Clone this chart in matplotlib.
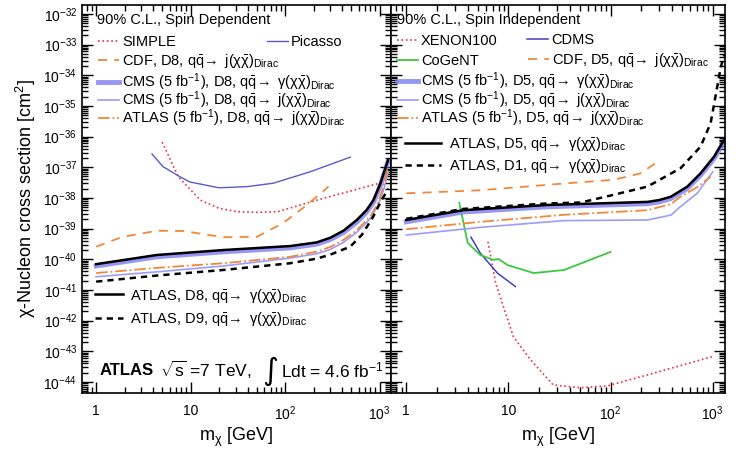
import matplotlib
matplotlib.use('Agg')
import matplotlib.pyplot as plt
import numpy as np
from matplotlib.lines import Line2D
from matplotlib.legend import Legend
from matplotlib.ticker import LogLocator, FixedLocator, FixedFormatter, NullFormatter

plt.rcParams['font.family'] = ['Liberation Sans', 'DejaVu Sans']
plt.rcParams['mathtext.fontset'] = 'custom'
plt.rcParams['mathtext.rm'] = 'Liberation Sans'
plt.rcParams['mathtext.it'] = 'Liberation Sans:italic'
plt.rcParams['mathtext.bf'] = 'Liberation Sans:bold'

# masses in GeV, limits given as log10(sigma / cm^2)

# ---- Spin dependent (left) ----
simple_m = [5.0, 7.4, 12.6, 20, 31, 50, 83, 218, 410, 1000]
simple_l = [-36.18, -37.31, -38.07, -38.34, -38.45, -38.47, -38.45, -38.07, -37.84, -37.52]
picasso_m = [3.9, 5.1, 7.7, 9.8, 20, 40, 75, 183, 490]
picasso_l = [-36.57, -36.98, -37.31, -37.48, -37.67, -37.63, -37.52, -37.15, -36.67]
cdf_d8_m = [1, 1.9, 4.4, 8.4, 22, 50, 95, 170, 288]
cdf_d8_l = [-39.59, -39.27, -39.07, -39.08, -39.28, -39.27, -38.82, -38.23, -37.63]
atlas_d8_m = [1, 4.4, 22, 113, 216, 300, 414, 573, 731, 861, 1012, 1230]
atlas_d8_l = [-40.16, -39.86, -39.70, -39.57, -39.45, -39.30, -39.07, -38.72, -38.39, -38.07, -37.55, -36.76]
cmsg_d8_l = [-40.22, -39.92, -39.76, -39.63, -39.51, -39.36, -39.13, -38.79, -38.46, -38.14, -37.62, -36.80]
atlas5_d8_m = [1, 4.4, 22, 113, 216, 300, 414, 573, 794, 950, 1100, 1230]
atlas5_d8_l = [-40.45, -40.28, -40.13, -39.92, -39.75, -39.60, -39.37, -39.05, -38.61, -38.20, -37.63, -37.00]
cmsj_d8_l = [-40.57, -40.41, -40.22, -39.96, -39.82, -39.68, -39.45, -39.12, -38.68, -38.28, -37.75, -37.15]
atlas_d9_m = [1, 4.4, 22, 113, 216, 300, 488, 650, 855, 1000, 1100, 1250]
atlas_d9_l = [-40.73, -40.53, -40.35, -40.13, -39.98, -39.85, -39.59, -39.20, -38.61, -38.20, -37.96, -37.70]

# ---- Spin independent (right) ----
xenon_m = [6.3, 7.5, 11.2, 16.5, 27.5, 51, 93, 230, 1000]
xenon_l = [-39.43, -40.78, -42.53, -43.28, -44.10, -44.19, -44.13, -43.77, -43.17]
cdms_m = [4.3, 5.3, 7.8, 11.7]
cdms_l = [-39.28, -39.80, -40.45, -40.89]
cogent_m = [3.3, 4.0, 5.3, 7.1, 8.0, 9.8, 17.7, 35, 100]
cogent_l = [-38.16, -39.47, -39.86, -40.02, -39.99, -40.19, -40.45, -40.35, -39.76]
cdf_d5_m = [1, 5.3, 35, 107, 196, 290]
cdf_d5_l = [-37.85, -37.75, -37.53, -37.41, -37.20, -36.82]
atlas_d5_m = [1, 3.6, 24, 230, 300, 390, 565, 760, 1030, 1290]
atlas_d5_l = [-38.72, -38.40, -38.23, -38.13, -38.07, -37.96, -37.63, -37.20, -36.66, -36.11]
cmsg_d5_l = [-38.78, -38.46, -38.29, -38.19, -38.13, -38.02, -37.69, -37.26, -36.72, -36.18]
atlas_d1_m = [1, 3.6, 24, 51, 107, 230, 485, 760, 955, 1200, 1300]
atlas_d1_l = [-38.68, -38.36, -38.18, -38.15, -37.90, -37.63, -37.03, -36.33, -35.56, -33.73, -33.34]
atlas5_d5_m = [1, 5.3, 35, 230, 390, 485, 705, 955]
atlas5_d5_l = [-39.02, -38.78, -38.55, -38.40, -38.20, -37.96, -37.65, -37.31]
cmsj_d5_m = [1, 5.3, 35, 230, 390, 485, 705, 1000]
cmsj_d5_l = [-39.21, -38.96, -38.74, -38.72, -38.56, -38.28, -37.85, -37.15]

orange = '#f0883a'
red = '#f03040'
blue_thick = '#7c7cf0'
blue_thin = '#9c9cff'
picasso_c = '#5a5ad0'
cdms_c = '#4040c0'
green = '#3cc83c'

s_simple = dict(ls=':', color=red, lw=1.2)
s_picasso = dict(ls='-', color=picasso_c, lw=1.0)
s_cdf = dict(ls='--', color=orange, lw=1.3, dashes=(5, 4))
s_cmsg = dict(ls='-', color=blue_thick, lw=3.5, alpha=0.8)
s_cmsj = dict(ls='-', color=blue_thin, lw=1.2)
s_atlas5 = dict(ls='-.', color=orange, lw=1.3)
s_atlas = dict(ls='-', color='black', lw=1.8)
s_atlas_dash = dict(ls='--', color='black', lw=1.8, dashes=(2.5, 2))
s_xenon = dict(ls=':', color=red, lw=1.2)
s_cdms = dict(ls='-', color=cdms_c, lw=1.1)
s_cogent = dict(ls='-', color=green, lw=1.3)


def sig(logs):
    return 10.0 ** np.array(logs)


fig = plt.figure(figsize=(7.36, 4.5), dpi=100)
axl = fig.add_axes([0.1114, 0.1267, 0.4198, 0.8622])
axr = fig.add_axes([0.5312, 0.1267, 0.4538, 0.8622])

# left panel curves
axl.plot(simple_m, sig(simple_l), **s_simple)
axl.plot(picasso_m, sig(picasso_l), **s_picasso)
axl.plot(cdf_d8_m, sig(cdf_d8_l), **s_cdf)
axl.plot(atlas_d8_m, sig(cmsg_d8_l), **s_cmsg)
axl.plot(atlas5_d8_m, sig(cmsj_d8_l), **s_cmsj)
axl.plot(atlas5_d8_m, sig(atlas5_d8_l), **s_atlas5)
axl.plot(atlas_d8_m, sig(atlas_d8_l), **s_atlas)
axl.plot(atlas_d9_m, sig(atlas_d9_l), **s_atlas_dash)

# right panel curves
axr.plot(xenon_m, sig(xenon_l), **s_xenon)
axr.plot(cdms_m, sig(cdms_l), **s_cdms)
axr.plot(cogent_m, sig(cogent_l), **s_cogent)
axr.plot(cdf_d5_m, sig(cdf_d5_l), **s_cdf)
axr.plot(atlas_d5_m, sig(cmsg_d5_l), **s_cmsg)
axr.plot(cmsj_d5_m, sig(cmsj_d5_l), **s_cmsj)
axr.plot(atlas5_d5_m, sig(atlas5_d5_l), **s_atlas5)
axr.plot(atlas_d5_m, sig(atlas_d5_l), **s_atlas)
axr.plot(atlas_d1_m, sig(atlas_d1_l), **s_atlas_dash)

for ax in (axl, axr):
    ax.set_xscale('log')
    ax.set_yscale('log')
    ax.set_xlim(10**-0.15, 10**3.12)
    ax.set_ylim(10**-44.36, 10**-31.71)
    ax.xaxis.set_major_locator(FixedLocator([1, 10, 100, 1000]))
    ax.xaxis.set_major_formatter(FixedFormatter(['1', '10', r'$10^2$', r'$10^3$']))
    ax.xaxis.set_minor_locator(LogLocator(base=10, subs=np.arange(2, 10), numticks=50))
    ax.xaxis.set_minor_formatter(NullFormatter())
    ax.yaxis.set_major_locator(LogLocator(base=10, numticks=30))
    ax.yaxis.set_minor_locator(LogLocator(base=10, subs=np.arange(2, 10), numticks=200))
    ax.yaxis.set_minor_formatter(NullFormatter())
    ax.tick_params(which='both', direction='in', top=True, right=True, labelsize=10, width=1)
    ax.tick_params(which='major', length=8)
    ax.tick_params(which='minor', length=4)
    ax.tick_params(axis='x', pad=8)
    for sp in ax.spines.values():
        sp.set_linewidth(1.2)
    ax.set_xlabel(r'm$_{\mathrm{\chi}}$ [GeV]', fontsize=13, labelpad=2)

axr.tick_params(axis='y', labelleft=False)
axl.set_ylabel('χ-Nucleon cross section [cm$^2$]', fontsize=13, labelpad=4)

fs = 10.5
arrow = r'$\mathrm{q\bar{q}}\!\rightarrow$ '
gam = r'$\mathrm{\gamma(\chi\bar{\chi})}_{\mathrm{Dirac}}$'
jet = r'$\mathrm{j(\chi\bar{\chi})}_{\mathrm{Dirac}}$'
cms = 'CMS (5 fb$^{-1}$), '
atl5 = 'ATLAS (5 fb$^{-1}$), '


def entry(ax, style, label, x, y, hl=1.45, pad=0.2):
    h = Line2D([], [], **style)
    leg = Legend(ax, [h], [label], loc='center left', bbox_to_anchor=(x, y), frameon=False,
                 fontsize=fs, borderpad=0, borderaxespad=0, handlelength=hl, handletextpad=pad)
    ax.add_artist(leg)


# left panel legend
axl.text(0.049, 0.962, '90% C.L., Spin Dependent', transform=axl.transAxes, fontsize=fs, va='center')
entry(axl, s_simple, 'SIMPLE', 0.052, 0.905)
entry(axl, s_picasso, 'Picasso', 0.599, 0.905)
entry(axl, s_cdf, 'CDF, D8, ' + arrow + jet, 0.052, 0.855)
entry(axl, s_cmsg, cms + 'D8, ' + arrow + gam, 0.052, 0.802)
entry(axl, s_cmsj, cms + 'D8, ' + arrow + jet, 0.052, 0.755)
entry(axl, s_atlas5, atl5 + 'D8, ' + arrow + jet, 0.052, 0.707)
entry(axl, s_atlas, 'ATLAS, D8, ' + arrow + gam, 0.042, 0.251, hl=1.9, pad=0.5)
entry(axl, s_atlas_dash, 'ATLAS, D9, ' + arrow + gam, 0.042, 0.191, hl=1.9, pad=0.5)

axl.text(0.058, 0.059, 'ATLAS', transform=axl.transAxes, fontsize=12, fontweight='bold', va='center')
axl.text(0.252, 0.059, r'$\sqrt{\mathrm{s}}$ =7 TeV,', transform=axl.transAxes, fontsize=12.5, va='center')
axl.text(0.583, 0.057, '∫', transform=axl.transAxes, fontsize=22, va='center', family='DejaVu Sans')
axl.text(0.644, 0.059, 'Ldt = 4.6 fb$^{-1}$', transform=axl.transAxes, fontsize=12.5, va='center')

# right panel legend
axr.text(0.018, 0.962, '90% C.L., Spin Independent', transform=axr.transAxes, fontsize=fs, va='center')
entry(axr, s_xenon, 'XENON100', 0.018, 0.907)
entry(axr, s_cdms, 'CDMS', 0.407, 0.910)
entry(axr, s_cogent, 'CoGeNT', 0.018, 0.856)
entry(axr, s_cdf, 'CDF, D5, ' + arrow + jet, 0.410, 0.858)
entry(axr, s_cmsg, cms + 'D5, ' + arrow + gam, 0.018, 0.804)
entry(axr, s_cmsj, cms + 'D5, ' + arrow + jet, 0.018, 0.755)
entry(axr, s_atlas5, atl5 + 'D5, ' + arrow + jet, 0.018, 0.707)
entry(axr, s_atlas, 'ATLAS, D5, ' + arrow + gam, 0.042, 0.641, hl=2.5, pad=0.55)
entry(axr, s_atlas_dash, 'ATLAS, D1, ' + arrow + gam, 0.042, 0.585, hl=2.5, pad=0.55)

fig.savefig('out.png', dpi=100)
